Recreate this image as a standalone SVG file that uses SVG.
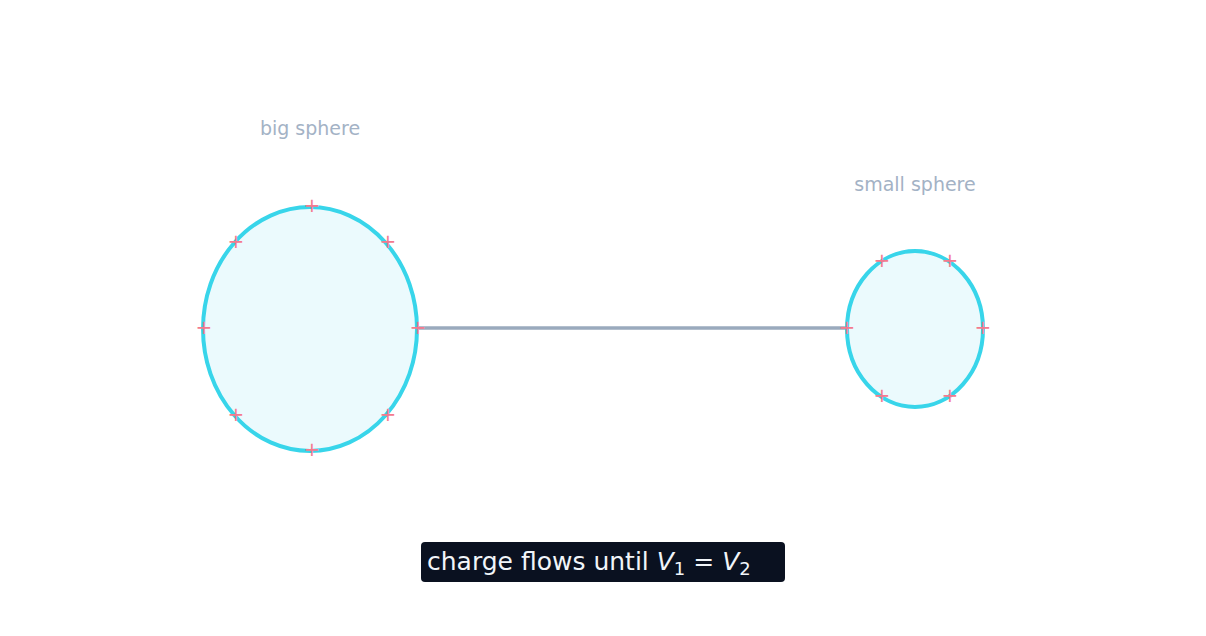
<svg xmlns="http://www.w3.org/2000/svg" width="1206" height="636" viewBox="0 0 1206 636">
<style>
.sph{fill:#ebfafd;stroke:#38d5ea;stroke-width:4}
.p{fill:#f47a8e;font-family:"DejaVu Sans",sans-serif;font-size:20px;text-anchor:middle;dominant-baseline:central}
.lbl{fill:#a3b2c5;font-family:"DejaVu Sans",sans-serif;font-size:19px;text-anchor:middle}
.t{fill:#f1f5f9;font-family:"DejaVu Sans",sans-serif;font-size:25px}
</style>
<rect width="1206" height="636" fill="#fff"/>
<g id="connectors"><line x1="418" y1="328" x2="847" y2="328" stroke="#9aaabd" stroke-width="3.5"/></g>
<g id="big">
<ellipse class="sph" cx="310" cy="329" rx="107" ry="122"/>
<text class="lbl" x="310" y="135">big sphere</text>
<g class="p"><text x="312" y="205">+</text><text x="236" y="241">+</text><text x="388" y="241">+</text><text x="204" y="327">+</text><text x="418" y="327">+</text><text x="236" y="414">+</text><text x="388" y="414">+</text><text x="312" y="449">+</text></g>
</g>
<g id="small">
<ellipse class="sph" cx="915" cy="329" rx="68" ry="78"/>
<text class="lbl" x="915" y="191">small sphere</text>
<g class="p"><text x="882" y="260">+</text><text x="950" y="260">+</text><text x="847" y="327">+</text><text x="983" y="327">+</text><text x="882" y="395">+</text><text x="950" y="395">+</text></g>
</g>
<g id="caption">
<rect x="421" y="542" width="364" height="40" rx="4" fill="#0a1120"/>
<text class="t" x="427" y="570">charge flows until  <tspan font-style="italic">V</tspan><tspan font-size="18" dy="5">1</tspan><tspan dy="-5"> = </tspan><tspan font-style="italic">V</tspan><tspan font-size="18" dy="5">2</tspan></text>
</g>
</svg>
